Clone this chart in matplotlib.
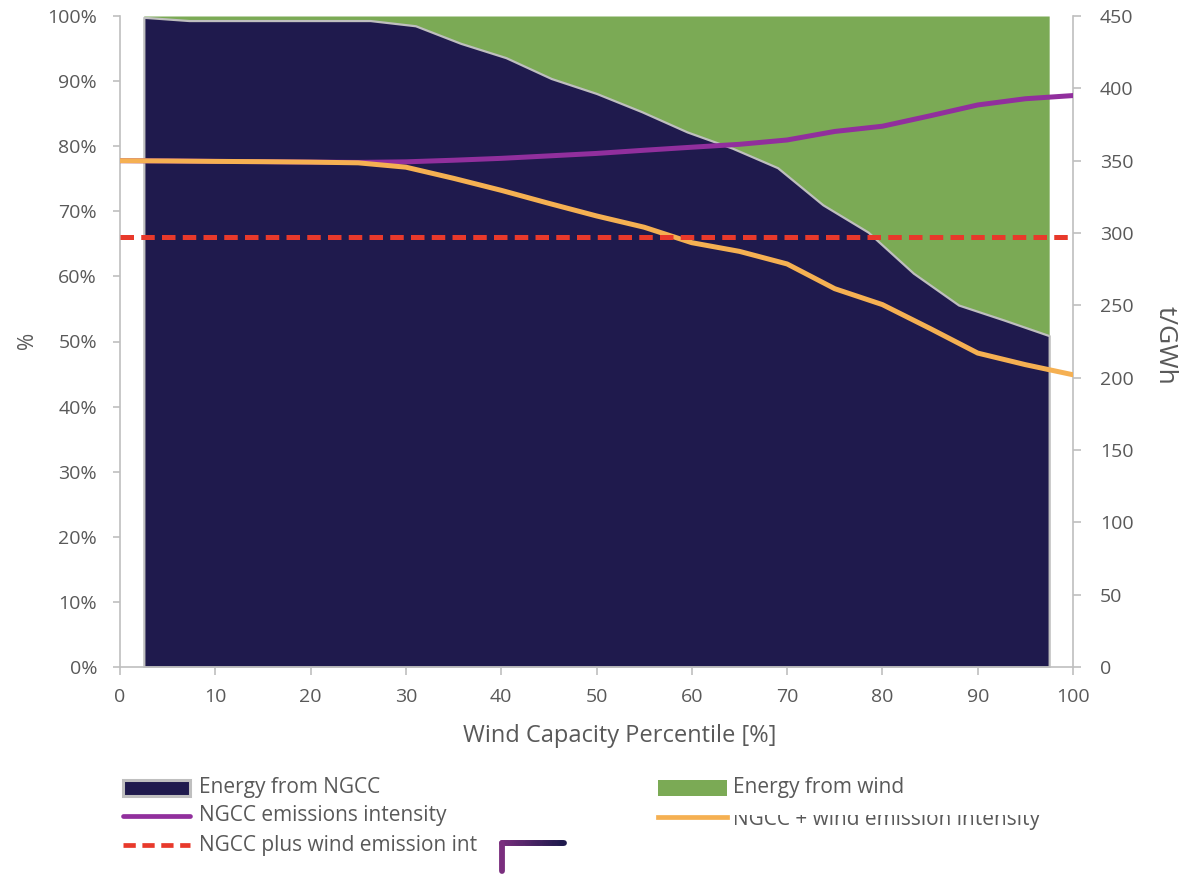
import numpy as np
import matplotlib
matplotlib.use("Agg")
import matplotlib.pyplot as plt
from matplotlib.lines import Line2D
from matplotlib.patches import Rectangle
from matplotlib.collections import LineCollection
from matplotlib.transforms import Bbox

plt.rcParams['font.family'] = ['Open Sans', 'DejaVu Sans']

# Energy share series (percent), on the 21 percentile bins
area_x = [2.5, 7.25, 12.0, 16.75, 21.5, 26.25, 31.0, 35.75, 40.5, 45.25, 50.0,
          54.75, 59.5, 64.25, 69.0, 73.75, 78.5, 83.25, 88.0, 92.75, 97.5]
ngcc_share = [99.8, 99.3, 99.3, 99.3, 99.3, 99.3, 98.5, 95.8, 93.6, 90.4, 88.1,
              85.3, 82.2, 79.7, 76.7, 71.0, 66.8, 60.5, 55.6, 53.3, 50.9]
wind_share = [100 - v for v in ngcc_share]

# Emission intensity series (t/GWh)
line_x = [0, 5, 10, 15, 20, 25, 30, 35, 40, 45, 50,
          55, 60, 65, 70, 75, 80, 85, 90, 95, 100]
ngcc_intensity = [350.0, 349.8, 349.5, 349.3, 349.0, 348.8, 349.2, 350.3, 351.6, 353.3, 355.0,
                  357.2, 359.3, 361.3, 364.3, 370.2, 373.8, 381.0, 388.5, 392.8, 395.0]
combined_intensity = [350.0, 349.8, 349.5, 349.3, 349.0, 348.5, 345.5, 337.8, 329.5, 320.5, 311.8,
                      304.0, 293.3, 287.3, 278.6, 261.5, 250.5, 234.0, 217.0, 209.0, 202.0]
plus_wind_intensity = 297.0

x_ticks = list(range(0, 101, 10))
pct_ticks = list(range(0, 101, 10))
pct_labels = [f"{t}%" for t in pct_ticks]
ghw_ticks = list(range(0, 451, 50))

legend_labels = ["Energy from NGCC", "Energy from wind",
                 "NGCC emissions intensity", "NGCC + wind emission intensity",
                 "NGCC plus wind emission int"]

NAVY = '#1F1A4D'
GREEN = '#7BAA55'
PURPLE = '#912F9D'
ORANGE = '#F5B052'
RED = '#E8392B'
EDGE = '#BFBFBF'
TXT = '#595959'

W, H = 1186, 875
fig = plt.figure(figsize=(W / 100, H / 100), dpi=100)


def fx(px):
    return px / W


def fy(py):
    return 1 - py / H


ax = fig.add_axes([fx(120), fy(667), fx(1073) - fx(120), fy(16) - fy(667)])
ax2 = ax.twinx()

# stacked energy areas
ax.fill_between(area_x, ngcc_share, 100, color=GREEN, linewidth=0, zorder=1)
ax.fill_between(area_x, 0, ngcc_share, facecolor=NAVY, edgecolor=EDGE,
                linewidth=1.6, zorder=2)
ax.set_xlim(0, 100)
ax.set_ylim(0, 100)
ax.set_xticks(x_ticks)
ax.set_yticks(pct_ticks)
ax.set_yticklabels(pct_labels)

# intensity lines on the secondary axis
ax2.plot(line_x, ngcc_intensity, color=PURPLE, lw=3.6, solid_capstyle='round',
         solid_joinstyle='round', zorder=3)
ax2.plot(line_x, combined_intensity, color=ORANGE, lw=3.6, solid_capstyle='round',
         solid_joinstyle='round', zorder=4)
ax2.plot([0, 100], [plus_wind_intensity] * 2, color=RED, lw=3.6,
         dashes=(2.7, 1.45), dash_capstyle='butt', zorder=5)
ax2.set_ylim(0, 450)
ax2.set_yticks(ghw_ticks)

for a in (ax, ax2):
    for s in a.spines.values():
        s.set_color(EDGE)
        s.set_linewidth(1.2)
    a.spines['top'].set_visible(False)
    a.tick_params(colors=EDGE, labelcolor=TXT, labelsize=14, width=1.2)
ax2.spines['left'].set_visible(False)
ax2.spines['bottom'].set_visible(False)
ax.spines['right'].set_visible(False)
ax.tick_params(axis='y', length=5, pad=11.5)
ax.tick_params(axis='x', length=5.5, pad=9.5)
ax2.tick_params(axis='y', length=5.5, pad=14)

# axis titles
fig.text(fx(620), fy(736), "Wind Capacity Percentile [%]", color=TXT, fontsize=17,
         ha='center', va='center')
fig.text(fx(28), fy(340), "%", color=TXT, fontsize=15, rotation=90,
         ha='center', va='center')
fig.text(fx(1165), fy(345), "t/GWh", color=TXT, fontsize=19, rotation=270,
         ha='center', va='center')

# legend, drawn in figure pixel positions
fs_leg = 15
fig.patches.append(Rectangle((fx(123), fy(796)), fx(190) - fx(123), fy(780) - fy(796),
                             transform=fig.transFigure, facecolor=NAVY,
                             edgecolor=EDGE, linewidth=2.2))
fig.text(fx(199), fy(788), legend_labels[0], color=TXT, fontsize=fs_leg, va='center')
fig.patches.append(Rectangle((fx(658), fy(796)), fx(727) - fx(658), fy(780) - fy(796),
                             transform=fig.transFigure, facecolor=GREEN, linewidth=0))
fig.text(fx(733), fy(788), legend_labels[1], color=TXT, fontsize=fs_leg, va='center')

fig.lines.append(Line2D([fx(123), fx(190)], [fy(816), fy(816)], transform=fig.transFigure,
                        color=PURPLE, lw=3.4, solid_capstyle='round'))
fig.text(fx(199), fy(816), legend_labels[2], color=TXT, fontsize=fs_leg, va='center')

clip = Bbox([[0, 0], [W, H - 815]])
orange_leg = Line2D([fx(658), fx(727)], [fy(817), fy(817)], transform=fig.transFigure,
                    color=ORANGE, lw=3.4)
orange_leg.set_clip_box(clip)
fig.lines.append(orange_leg)
t = fig.text(fx(733), fy(820), legend_labels[3], color=TXT, fontsize=fs_leg, va='center')
t.set_clip_box(clip)
t.set_clip_on(True)

fig.lines.append(Line2D([fx(123), fx(190)], [fy(845), fy(845)], transform=fig.transFigure,
                        color=RED, lw=3.4, dashes=(2.6, 1.4), dash_capstyle='butt'))
fig.text(fx(199), fy(845), legend_labels[4], color=TXT, fontsize=fs_leg, va='center')

# small corner bracket mark beside the legend
fig.lines.append(Line2D([fx(502), fx(502)], [fy(843), fy(871)], transform=fig.transFigure,
                        color='#7A2E7E', lw=4.2, solid_capstyle='round'))
xs = np.linspace(502, 564, 30)
segs = [[(fx(xs[i]), fy(843)), (fx(xs[i + 1]), fy(843))] for i in range(len(xs) - 1)]
cmix = [np.array(matplotlib.colors.to_rgb('#7A2E7E')) * (1 - f) +
        np.array(matplotlib.colors.to_rgb(NAVY)) * f for f in np.linspace(0, 1, len(segs))]
lc = LineCollection(segs, colors=cmix, linewidths=4.2, transform=fig.transFigure,
                    capstyle='round')
fig.add_artist(lc)

fig.savefig("out.png", dpi=100)
